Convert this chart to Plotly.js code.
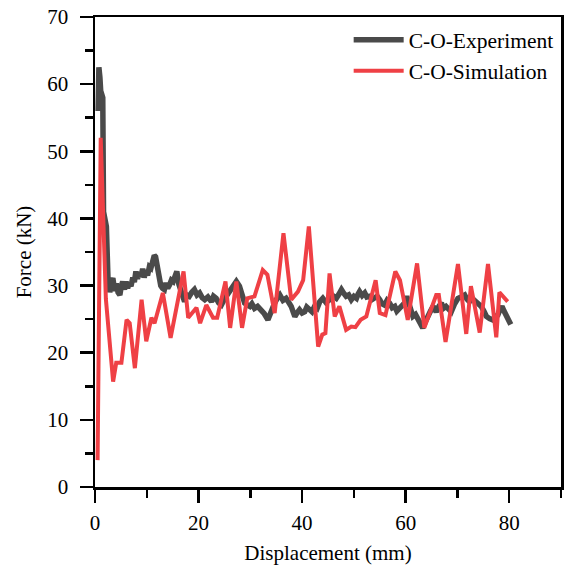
<!DOCTYPE html>
<html>
<head>
<meta charset="utf-8">
<script src="https://cdn.plot.ly/plotly-3.0.1.min.js"></script>
<style>html,body{margin:0;padding:0;background:#fff;}#chart{width:564px;height:566px;}</style>
</head>
<body>
<div id="chart"></div>
<script>
var expX = [0.6,0.75,0.95,1.1,1.3,1.5,1.65,1.9,2.2,2.5,2.85,3.1,3.45,3.8,4.1,4.45,4.8,5.1,5.35,5.7,6.0,6.3,6.6,6.95,7.3,7.6,7.9,8.2,8.55,8.9,9.2,9.5,9.85,10.15,10.5,10.8,11.2,11.45,11.7,11.95,12.1,12.4,12.7,13.05,13.4,13.7,14.05,14.4,14.75,15.1,15.4,15.8,16.2,16.6,16.95,17.3,17.7,18.2,18.7,19.2,19.7,20.2,20.7,21.2,21.8,22.5,22.9,23.4,23.9,24.4,25.0,25.7,26.3,26.8,27.3,27.9,28.4,28.9,29.4,29.9,30.3,30.8,31.4,32.1,32.7,33.4,34.0,34.7,35.2,35.7,36.3,36.9,37.4,37.9,38.3,38.6,39.0,39.5,40.0,40.5,40.9,41.4,41.9,42.4,42.9,43.4,44.0,44.6,45.3,45.9,46.6,47.1,47.6,48.0,48.5,49.0,49.5,50.0,50.5,50.8,51.1,51.6,52.1,52.5,53.0,53.5,54.0,54.5,55.0,55.4,55.9,56.4,56.9,57.4,57.9,58.3,58.8,59.3,59.8,60.2,60.8,61.4,61.9,62.4,62.9,63.3,63.8,64.3,64.8,65.3,65.9,66.4,66.9,67.3,67.8,68.3,68.8,69.4,70.1,70.7,71.4,71.8,72.3,73.0,73.6,74.1,74.6,75.1,75.6,76.2,76.8,77.3,77.8,78.2,78.6,79.0,79.4,79.9,80.3];
var expY = [56,62.5,61,59,58.4,58,41,39.5,38.8,31.3,29,30.5,31.1,29.2,30.3,29.0,28.6,30,30.6,29.4,30.6,29.6,30.4,29.9,31.2,30.5,32.1,31.0,32.0,31.3,32.5,31.2,32.3,31.5,32.8,32.6,33.5,34.5,34.3,33.2,32.8,30.6,30.0,29.6,29.4,30.4,29.6,30.1,30.8,30.6,31.3,32.1,30.2,29.1,28.3,27.6,28.6,28.4,29.0,29.4,28.6,28.9,28.2,27.9,28.3,27.6,28.4,28.1,27.4,27.1,28.0,28.9,29.3,30.1,30.6,29.9,28.2,27.4,27.1,26.9,27.3,26.6,26.9,26.4,25.8,24.9,26.3,27.4,28.1,28.6,27.8,28.1,27.5,26.9,26.0,25.4,25.9,26.4,25.9,26.1,26.8,26.4,26.1,26.9,26.6,27.6,28.1,27.5,27.9,28.5,28.1,28.7,29.4,28.9,28.4,28.6,27.9,28.4,28.1,28.7,29.1,28.5,28.9,28.3,28.4,27.9,28.1,28.4,27.9,27.3,27.1,27.8,27.4,26.7,26.9,26.2,26.6,26.9,27.4,28.4,26.5,25.4,25.7,24.9,24.3,23.7,24.6,25.6,26.2,26.9,26.1,26.9,27.4,26.6,26.9,26.5,26.1,27.2,28.1,28.3,28.6,28.0,27.6,28.0,27.6,27.3,26.9,26.2,25.4,25.1,24.9,25.4,25.6,26.4,26.9,26.2,25.6,24.8,24.2];

var simX = [0.5,1.1,2.1,3.5,4.1,5.1,6.1,6.7,7.7,9.0,9.9,10.9,11.5,13.1,14.6,17.1,18.0,19.6,20.3,21.5,22.8,23.6,25.2,26.1,27.3,28.4,29.4,30.8,32.4,33.3,34.7,36.4,37.9,39.2,40.2,41.3,43.1,43.9,44.5,45.3,46.3,47.2,48.5,49.5,50.3,51.3,52.4,54.2,55.0,56.1,58.0,58.9,60.4,62.2,63.6,65.9,66.4,67.7,70.1,71.7,72.6,74.3,75.9,77.5,78.1,79.7];
var simY = [4,52,28,15.7,18.5,18.5,24.9,24.4,17.7,27.9,21.7,25.2,24.4,28.9,22.2,32.1,25.2,26.7,24.4,27.1,25.2,25.2,30.6,23.7,30.6,23.7,28.1,28.4,32.3,31.6,25.9,37.8,27.9,29.1,30.8,38.8,20.9,22.7,22.9,31.8,25.4,26.9,23.4,23.9,23.8,24.9,25.4,30.8,25.9,25.6,32.1,30.8,24.9,33.3,23.7,28.6,28.6,21.6,33.2,22.8,29.9,23.0,33.2,22.3,29.0,27.6];

var seriesNames = ['C-O-Experiment','C-O-Simulation'];
var FONT = '"Times New Roman", "Liberation Serif", serif';

var traces = [
  {x: expX, y: expY, type: 'scatter', mode: 'lines', name: seriesNames[0],
   line: {color: '#4a4a4a', width: 5.5}},
  {x: simX, y: simY, type: 'scatter', mode: 'lines', name: seriesNames[1],
   line: {color: '#ef4045', width: 4}}
];

var axisCommon = {
  showgrid: false, zeroline: false, showline: true, linecolor: '#000', linewidth: 2.5,
  mirror: true, ticks: 'outside', ticklen: 13, tickwidth: 2.5, tickcolor: '#000',
  tickfont: {family: FONT, size: 21, color: '#000'}
};

var layout = {
  width: 564, height: 566,
  margin: {l: 95, r: 3, t: 17, b: 79},
  paper_bgcolor: '#fff', plot_bgcolor: '#fff',
  font: {family: FONT, color: '#000'},
  showlegend: true,
  legend: {x: 0.995, y: 0.995, xanchor: 'right', yanchor: 'top', bgcolor: 'rgba(0,0,0,0)',
           font: {family: FONT, size: 21.5, color: '#000'}, tracegroupgap: 0, itemwidth: 50},
  xaxis: Object.assign({}, axisCommon, {
    range: [0, 90], dtick: 20, tick0: 0, ticklabelstandoff: 2,
    minor: {dtick: 10, ticklen: 8, tickwidth: 2.5, tickcolor: '#000', ticks: 'outside'},
    title: {text: 'Displacement (mm)', font: {family: FONT, size: 21, color: '#000'}, standoff: 12}
  }),
  yaxis: Object.assign({}, axisCommon, {
    range: [0, 70], dtick: 10, tick0: 0, ticklabelstandoff: 7,
    minor: {dtick: 5, ticklen: 8, tickwidth: 2.5, tickcolor: '#000', ticks: 'outside'},
    title: {text: 'Force (kN)', font: {family: FONT, size: 21, color: '#000'}, standoff: 10}
  })
};

Plotly.newPlot('chart', traces, layout, {displayModeBar: false, staticPlot: true});
</script>
</body>
</html>
